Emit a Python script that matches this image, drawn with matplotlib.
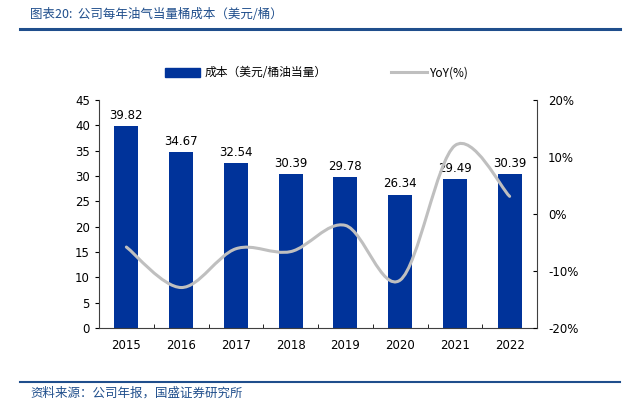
import matplotlib.pyplot as plt
from matplotlib.path import Path
from matplotlib.patches import PathPatch
from matplotlib.lines import Line2D
import numpy as np

plt.rcParams['font.family'] = ['DejaVu Sans', 'Noto Sans CJK SC']

# ── Dati ──────────────────────────────────────────────
years = ['2015', '2016', '2017', '2018', '2019', '2020', '2021', '2022']
costo = [39.82, 34.67, 32.54, 30.39, 29.78, 26.34, 29.49, 30.39]
yoy = [-5.8, -12.9, -6.1, -6.6, -2.0, -11.6, 12.0, 3.1]

BLU = '#00339A'
GRIGIO = '#BFBFBF'
NAVY = '#1F4E8C'
CJK = ['Noto Sans CJK SC', 'DejaVu Sans']

fig = plt.figure(figsize=(6.34, 4.09), dpi=100)
ax = fig.add_axes([99 / 634, 1 - 328 / 409, 438 / 634, 228 / 409])
ax2 = ax.twinx()

x = np.arange(len(years))
ax.bar(x, costo, width=0.44, color=BLU, zorder=2)
for xi, v in zip(x, costo):
    ax.text(xi, v + 0.8, f'{v:.2f}', ha='center', va='bottom', fontsize=8.5)

ax.set_xlim(-0.5, len(years) - 0.5)
ax.set_ylim(0, 45)
ax.set_yticks(range(0, 46, 5))
ax.set_xticks(x)
ax.set_xticklabels(years, fontsize=8.5)
ax.set_xticks(np.arange(-0.5, len(years)), minor=True)
ax.tick_params(axis='x', which='major', length=0, pad=8)
ax.tick_params(axis='x', which='minor', length=3, direction='in')
ax.tick_params(axis='y', labelsize=8.5, length=3, direction='out')
ax.spines['top'].set_visible(False)
ax.spines['right'].set_visible(False)
for s in ['left', 'bottom']:
    ax.spines[s].set_color('#404040')

# YoY: curva smussata (Bezier tipo Catmull-Rom)
pts = np.column_stack([x, yoy]).astype(float)
ext = np.vstack([pts[0], pts, pts[-1]])
verts = [tuple(pts[0])]
codes = [Path.MOVETO]
for i in range(1, len(ext) - 2):
    p0, p1, p2, p3 = ext[i - 1], ext[i], ext[i + 1], ext[i + 2]
    c1 = p1 + (p2 - p0) / 6
    c2 = p2 - (p3 - p1) / 6
    verts += [tuple(c1), tuple(c2), tuple(p2)]
    codes += [Path.CURVE4] * 3
ax2.add_patch(PathPatch(Path(verts, codes), fill=False, edgecolor=GRIGIO,
                        lw=2.2, zorder=3, capstyle='round'))
ax2.set_ylim(-20, 20)
ax2.set_yticks(range(-20, 21, 10))
ax2.set_yticklabels([f'{v}%' for v in range(-20, 21, 10)])
ax2.tick_params(axis='y', labelsize=8.5, length=3, direction='in', pad=8)
ax2.spines['top'].set_visible(False)
ax2.spines['left'].set_visible(False)
ax2.spines['bottom'].set_visible(False)
ax2.spines['right'].set_color('#404040')

# ── Legenda ──
handles = [plt.Rectangle((0, 0), 1, 1, color=BLU),
           Line2D([0], [0], color=GRIGIO, lw=2.2)]
leg = fig.legend(handles, ['成本（美元/桶油当量）', 'YoY(%)'], loc='center',
                 bbox_to_anchor=(0.5, 1 - 73 / 409), ncol=2, frameon=False,
                 prop={'family': CJK, 'size': 8.5}, handlelength=3.0,
                 handleheight=0.9, handletextpad=0.3, columnspacing=5.5)

# ── Titolo e fonte ──
fig.text(30 / 634, 1 - 15 / 409, '图表20:  公司每年油气当量桶成本（美元/桶）',
         family=CJK, fontsize=9, color=NAVY, va='center', style='italic')
fig.add_artist(Line2D([20 / 634, 620 / 634], [1 - 29 / 409] * 2,
                      color=NAVY, lw=2.2))
fig.add_artist(Line2D([20 / 634, 620 / 634], [1 - 382 / 409] * 2,
                      color=NAVY, lw=1.5))
fig.text(30 / 634, 1 - 393 / 409, '资料来源：公司年报，国盛证券研究所',
         family=CJK, fontsize=9, color=NAVY, va='center', style='italic')

fig.savefig('out.png', dpi=100)
